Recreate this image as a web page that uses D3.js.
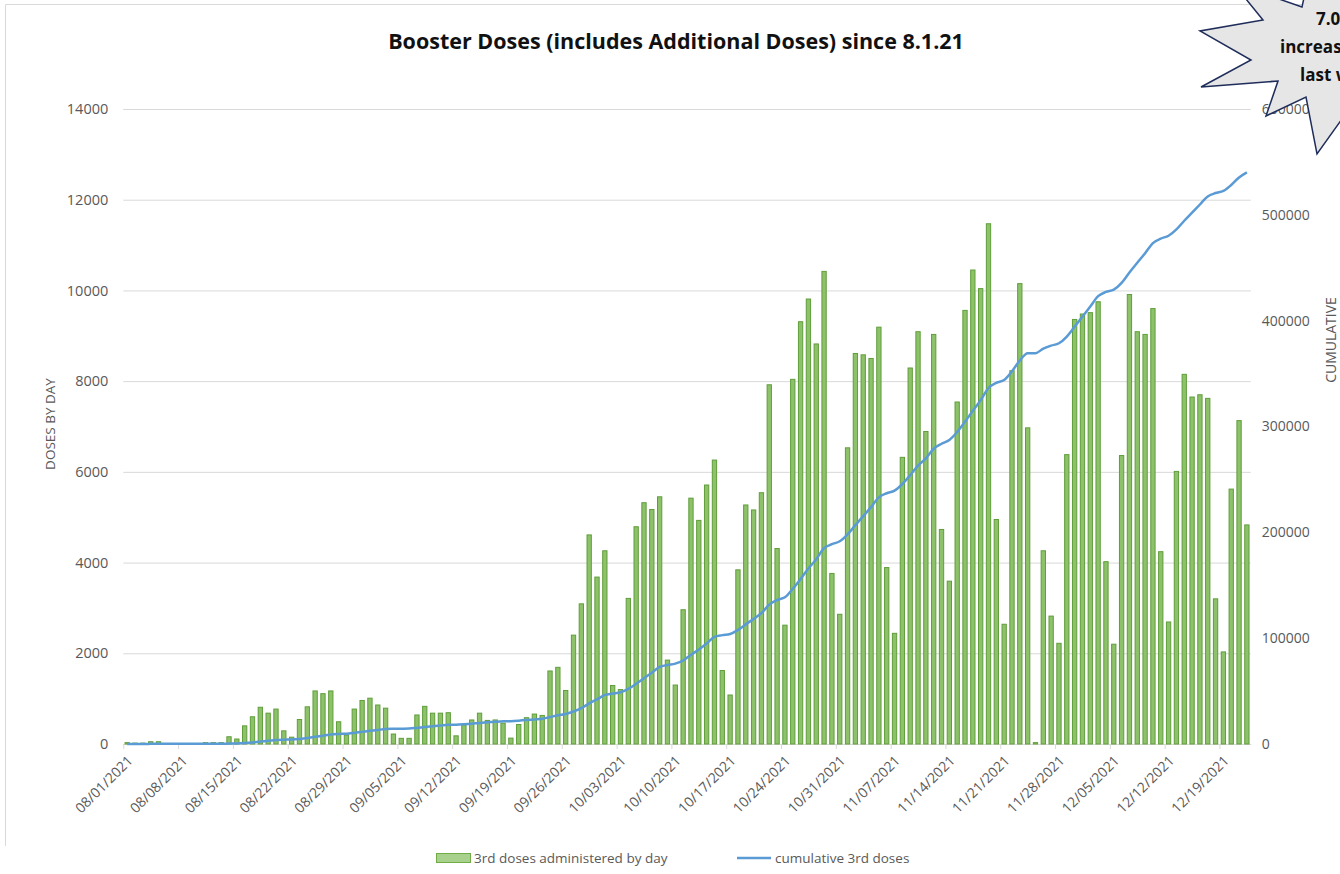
<!DOCTYPE html>
<html>
<head>
<meta charset="utf-8">
<script src="https://cdn.jsdelivr.net/npm/d3@7"></script>
<style>
body{margin:0;background:#fff;}
svg{display:block;font-family:"Open Sans",Lato,sans-serif;}
</style>
</head>
<body>
<div id="chart"></div>
<script>
// categories: one per day, 08/01/2021 .. 12/22/2021
let days = d3.timeDay.range(new Date(2021, 7, 1), new Date(2021, 11, 23));

let dailyDoses = [
 30,20,20,50,50,0,0,0,0,0,30,30,30,160,110,400,600,810,680,770,
 290,150,540,820,1170,1110,1170,490,200,770,960,1010,860,790,220,125,125,640,830,680,
 680,690,180,420,530,680,520,530,460,130,430,580,660,630,1610,1690,1180,2400,3090,4610,
 3680,4260,1290,1200,3210,4790,5320,5170,5450,1850,1300,2960,5420,4930,5710,6260,1620,1080,3840,5270,
 5160,5540,7920,4310,2620,8040,9310,9810,8820,10420,3760,2860,6530,8610,8580,8500,9190,3890,2440,6320,
 8290,9090,6890,9030,4730,3590,7540,9560,10450,10040,11470,4950,2640,8230,10150,6970,30,4260,2820,2220,
 6380,9360,9480,9510,9750,4020,2200,6360,9910,9090,9030,9600,4240,2690,6010,8150,7650,7700,7620,3200,
 2030,5620,7130,4830
];

let cumulativeDoses = [
 30,50,70,120,170,170,170,170,170,170,200,230,260,420,530,930,1530,2340,3020,3790,
 4080,4230,4770,5590,6760,7870,9040,9530,9730,10500,11460,12470,13330,14120,14340,14470,14590,15230,16060,16740,
 17420,18110,18290,18710,19240,19920,20440,20970,21430,21560,21990,22570,23230,23860,25470,27160,28340,30740,33830,38440,
 42120,46380,47670,48870,52080,56870,62190,67360,72810,74660,75960,78920,84340,89270,94980,101240,102860,103940,107780,113050,
 118210,123750,131670,135980,138600,146640,155950,165760,174580,185000,188760,191620,198150,206760,215340,223840,233030,236920,239360,245680,
 253970,263060,269950,278980,283710,287300,294840,304400,314850,324890,336360,341310,343950,352180,362330,369300,369330,373590,376410,378630,
 385010,394370,403850,413360,423110,427130,429330,435690,445600,454690,463720,473320,477560,480250,486260,494410,502060,509760,517380,520580,
 522610,528230,535360,540190
];

let tickLabels = ["08/01/2021","08/08/2021","08/15/2021","08/22/2021","08/29/2021","09/05/2021","09/12/2021",
 "09/19/2021","09/26/2021","10/03/2021","10/10/2021","10/17/2021","10/24/2021","10/31/2021","11/07/2021",
 "11/14/2021","11/21/2021","11/28/2021","12/05/2021","12/12/2021","12/19/2021"];
let leftTicks = [0,2000,4000,6000,8000,10000,12000,14000];
let rightTicks = [0,100000,200000,300000,400000,500000,600000];

let width = 1340, height = 874;
let plotLeft = 123.3, plotRight = 1250.8, plotTop = 109, plotBottom = 744;
let textGray = "#595959";

let svg = d3.select("#chart").append("svg")
  .attr("width", width)
  .attr("height", height);

// chart area border (left + top edges visible)
svg.append("path")
  .attr("d", "M5.5,846 V4.5 H1340")
  .attr("fill", "none")
  .attr("stroke", "#d9d9d9");

let x = d3.scaleBand()
  .domain(d3.range(days.length))
  .range([plotLeft, plotRight])
  .paddingInner(0.45)
  .paddingOuter(0.225);
let dayEdge = d3.scaleLinear().domain([0, days.length]).range([plotLeft, plotRight]);
let yLeft = d3.scaleLinear().domain([0, 14000]).range([plotBottom, plotTop]);
let yRight = d3.scaleLinear().domain([0, 600000]).range([plotBottom, plotTop]);

// title
svg.append("text")
  .text("Booster Doses (includes Additional Doses) since 8.1.21")
  .attr("x", 676).attr("y", 49)
  .attr("text-anchor", "middle")
  .attr("font-size", 21.5).attr("font-weight", "bold")
  .attr("fill", "#111");

// left axis + gridlines
let yAxis = d3.axisLeft(yLeft).tickValues(leftTicks).tickFormat(d3.format("d"))
  .tickSize(-(plotRight - plotLeft)).tickPadding(15);
let gy = svg.append("g").attr("transform", "translate(" + plotLeft + ",0)").call(yAxis);
gy.select(".domain").remove();
gy.selectAll("line").attr("stroke", "#d9d9d9");
gy.selectAll("text").attr("fill", textGray).attr("font-size", 14.5).attr("font-family", "Open Sans");

// right axis
let yAxis2 = d3.axisRight(yRight).tickValues(rightTicks).tickFormat(d3.format("d"))
  .tickSize(0).tickPadding(11);
let gy2 = svg.append("g").attr("transform", "translate(" + plotRight + ",0)").call(yAxis2);
gy2.select(".domain").remove();
gy2.selectAll("text").attr("fill", textGray).attr("font-size", 14).attr("font-family", "Open Sans");

// x axis line and ticks
let xAxis = d3.axisBottom(dayEdge).tickValues(d3.range(0, days.length + 1, 7)).tickSize(5).tickFormat("").tickSizeOuter(0);
let gx = svg.append("g").attr("transform", "translate(0," + plotBottom + ")").call(xAxis);
gx.selectAll("line, path").attr("stroke", "#d9d9d9");

svg.append("g").selectAll("text")
  .data(tickLabels)
  .enter()
  .append("text")
  .text(function(d){ return d; })
  .attr("transform", function(d, i){
    let cx = x(i * 7) + x.bandwidth() / 2 + 3;
    return "translate(" + cx + "," + (plotBottom + 14) + ") rotate(-45)";
  })
  .attr("text-anchor", "end")
  .attr("dy", "0.35em")
  .attr("font-size", 14)
  .attr("fill", textGray);

// axis titles
svg.append("text").text("DOSES BY DAY")
  .attr("transform", "translate(55,424) rotate(-90)")
  .attr("text-anchor", "middle").attr("font-size", 13.5).attr("fill", textGray);
svg.append("text").text("CUMULATIVE")
  .attr("transform", "translate(1336,340) rotate(-90)")
  .attr("text-anchor", "middle").attr("font-size", 14).attr("fill", textGray);

// bars
svg.append("g").selectAll("rect")
  .data(dailyDoses.map(function(d, i){ return {v: d, i: i}; }).filter(function(d){ return d.v > 0; }))
  .enter()
  .append("rect")
  .attr("x", function(d){ return x(d.i); })
  .attr("width", x.bandwidth())
  .attr("y", function(d){ return yLeft(d.v); })
  .attr("height", function(d){ return plotBottom - yLeft(d.v); })
  .attr("fill", "#8dc26a")
  .attr("stroke", "#5f9e3a")
  .attr("stroke-width", 1);

// cumulative line
let line = d3.line()
  .x(function(d, i){ return x(i) + x.bandwidth() / 2; })
  .y(function(d){ return yRight(d); })
  .curve(d3.curveMonotoneX);
svg.append("path")
  .datum(cumulativeDoses)
  .attr("d", line)
  .attr("fill", "none")
  .attr("stroke", "#5b9bd5")
  .attr("stroke-width", 2.5);

// legend
let lg = svg.append("g");
lg.append("rect").attr("x", 436.5).attr("y", 853.5).attr("width", 34).attr("height", 9)
  .attr("fill", "#a9d18e").attr("stroke", "#70ad47");
lg.append("text").text("3rd doses administered by day").attr("x", 474).attr("y", 863)
  .attr("font-size", 13.5).attr("fill", textGray);
lg.append("line").attr("x1", 737).attr("x2", 771).attr("y1", 858).attr("y2", 858)
  .attr("stroke", "#5b9bd5").attr("stroke-width", 2.5);
lg.append("text").text("cumulative 3rd doses").attr("x", 775).attr("y", 863)
  .attr("font-size", 13.5).attr("fill", textGray);

// starburst call-out (top right), partly outside the picture as in the source
let starPts = [[1302,7],[1233,-17],[1263,20],[1200,31],[1251,60],[1201,87],[1278,81],
  [1266,116],[1306,97],[1317,154],[1352,105],[1370,-30],[1310,-30]];
svg.append("polygon")
  .attr("points", starPts.map(function(p){ return p.join(","); }).join(" "))
  .attr("fill", "#e7e6e6")
  .attr("stroke", "#1f2d5a")
  .attr("stroke-width", 1.5);
let starText = ["7.0%", "increase", "last week"];
let starX = [1316, 1280, 1300];
svg.append("g").selectAll("text")
  .data(starText)
  .enter()
  .append("text")
  .text(function(d){ return d; })
  .attr("x", function(d, i){ return starX[i]; })
  .attr("y", function(d, i){ return 25 + i * 28; })
  .attr("font-size", 17)
  .attr("font-weight", "bold")
  .attr("fill", "#111");
</script>
</body>
</html>
